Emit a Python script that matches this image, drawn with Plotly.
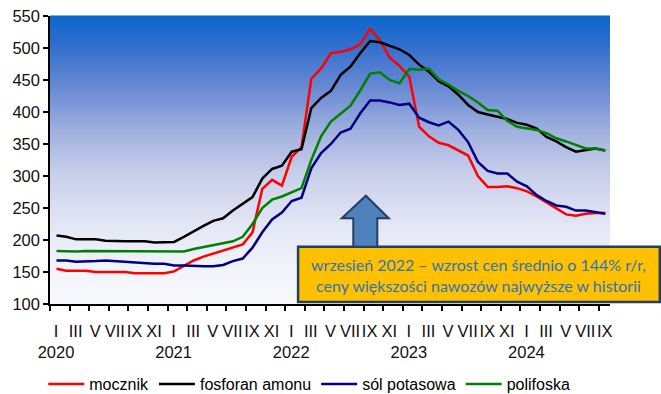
import plotly.graph_objects as go

# ---------------- data (monthly, Jan 2020 - Sep 2024) ----------------
years = ["2020", "2021", "2022", "2023", "2024"]
roman = ["I", "III", "V", "VII", "IX", "XI"]

mocznik = [155, 152, 152, 152, 150, 150, 150, 150, 148, 148, 148, 148,
           151, 159, 168, 174, 179, 184, 189, 193, 212, 280, 294, 285,
           330, 345, 452, 468, 492, 494, 498, 506, 530, 512, 485, 472,
           455, 377, 362, 352, 348, 340, 332, 300, 283, 283, 284, 281,
           276, 268, 259, 249, 240, 238, 241, 242, 242]

fosforan_amonu = [207, 205, 201, 201, 201, 199, 198, 198, 198, 198, 196, 196,
                  197, 205, 214, 222, 230, 234, 246, 257, 267, 296, 311, 316,
                  338, 342, 406, 422, 433, 458, 471, 492, 511, 509, 503, 498,
                  489, 474, 463, 448, 440, 427, 411, 400, 396, 393, 389, 383,
                  380, 374, 361, 354, 345, 338, 340, 343, 340]

sol_potasowa = [168, 168, 166, 166, 167, 168, 167, 165, 164, 163, 163, 163,
                160, 160, 159, 159, 159, 161, 167, 171, 188, 212, 232, 243,
                261, 266, 312, 336, 350, 368, 374, 398, 418, 418, 415, 411,
                413, 391, 384, 379, 385, 372, 353, 322, 308, 304, 304, 291,
                284, 270, 261, 254, 252, 246, 246, 244, 241]

polifoska = [183, 182, 182, 183, 183, 182, 182, 183, 183, 183, 183, 182,
             182, 182, 186, 189, 191, 194, 198, 205, 225, 250, 263, 268,
             274, 281, 325, 362, 385, 398, 410, 434, 460, 462, 450, 445,
             467, 466, 468, 451, 443, 433, 425, 415, 403, 402, 386, 377,
             375, 372, 367, 359, 354, 348, 343, 343, 340]

series = [
    ("mocznik", mocznik, "#FF0000"),
    ("fosforan amonu", fosforan_amonu, "#000000"),
    ("sól potasowa", sol_potasowa, "#000080"),
    ("polifoska", polifoska, "#008000"),
]

note = "wrzesień 2022 – wzrost cen średnio o 144% r/r,<br>ceny większości nawozów najwyższe w historii"

# ---------------- figure ----------------
n = len(mocznik)
x = list(range(n))  # month index from Jan 2020

fig = go.Figure()
for name, vals, col in series:
    fig.add_trace(go.Scatter(x=x, y=vals, mode="lines", name=name,
                             line=dict(color=col, width=2.5)))

# tick marks every second month (between categories), labels shifted right
label_months = list(range(0, n, 2))
ticktext = []
for k in label_months:
    lab = roman[(k % 12) // 2]
    if k % 12 == 0:
        lab += "<br>" + years[k // 12]
    ticktext.append(lab)
tick_marks = [k - 0.66 for k in label_months]

# gradient background (blue top -> white bottom)
stops = [(0.0, (248, 249, 253)), (0.12, (242, 244, 251)), (0.25, (230, 233, 246)),
         (0.45, (200, 207, 234)), (0.6, (160, 176, 223)), (0.75, (105, 138, 211)),
         (0.9, (48, 110, 206)), (1.0, (12, 102, 204))]


def grad(f):
    for (f0, c0), (f1, c1) in zip(stops[:-1], stops[1:]):
        if f0 <= f <= f1:
            t = (f - f0) / (f1 - f0)
            return "rgb(%d,%d,%d)" % tuple(round(a + (b - a) * t) for a, b in zip(c0, c1))
    return "rgb(%d,%d,%d)" % stops[-1][1]


nb = 144
shapes = []
for i in range(nb):
    shapes.append(dict(type="rect", xref="paper", yref="paper",
                       x0=0, x1=1, y0=i / nb, y1=(i + 1) / nb + 0.002,
                       fillcolor=grad((i + 0.5) / nb), line=dict(width=0),
                       layer="below"))

# annotation box and arrow (paper coordinates)
shapes.append(dict(type="rect", xref="paper", yref="paper",
                   x0=0.443, x1=1.089, y0=0.007, y1=0.199,
                   fillcolor="#FFC000", line=dict(color="#243F60", width=2.5),
                   layer="above"))
ax0, ax1 = 0.5416, 0.5845
hx0, hx1 = 0.521, 0.605
tipx, tipy = 0.564, 0.376
hb, bot = 0.2976, 0.199
arrow = (f"M {ax0},{bot} L {ax0},{hb} L {hx0},{hb} L {tipx},{tipy} "
         f"L {hx1},{hb} L {ax1},{hb} L {ax1},{bot} Z")
shapes.append(dict(type="path", xref="paper", yref="paper", path=arrow,
                   fillcolor="#4F81BD", line=dict(color="#243F60", width=2),
                   layer="above"))

fig.update_layout(
    width=661, height=394,
    margin=dict(l=50, r=51, t=16, b=90, autoexpand=False),
    paper_bgcolor="white",
    plot_bgcolor="white",
    font=dict(family="Liberation Sans, Arial, sans-serif", size=16.5, color="#111111"),
    shapes=shapes,
    showlegend=True,
    legend=dict(orientation="h", x=-0.012, xanchor="left", y=-0.278, yanchor="middle",
                font=dict(size=16, color="#000000"), itemwidth=36,
                bgcolor="rgba(0,0,0,0)"),
    annotations=[dict(text=note, xref="paper", yref="paper", x=0.766, y=0.1007,
                      xanchor="center", yanchor="middle", showarrow=False,
                      font=dict(family="Lato, Open Sans, sans-serif", size=16,
                                color="#2E75B6"))],
)

fig.update_xaxes(range=[-0.663, 56.48], showgrid=False, zeroline=False,
                 showline=True, linecolor="black", linewidth=1.5, automargin=False,
                 tickmode="array", tickvals=tick_marks, ticktext=ticktext,
                 ticks="outside", ticklen=5, tickcolor="black", tickwidth=1.5,
                 tickangle=0, ticklabelshift=6, ticklabelstandoff=6)
fig.update_yaxes(range=[100, 550], showgrid=False, zeroline=False,
                 showline=True, linecolor="black", linewidth=1.5, automargin=False,
                 tickmode="array", tickvals=list(range(100, 551, 50)),
                 ticks="outside", ticklen=5, tickcolor="black", tickwidth=1.5)

fig.write_html("out.html", config={"displayModeBar": False},
               post_script="document.body.style.margin='0';"
                           "document.body.style.overflow='hidden';")
